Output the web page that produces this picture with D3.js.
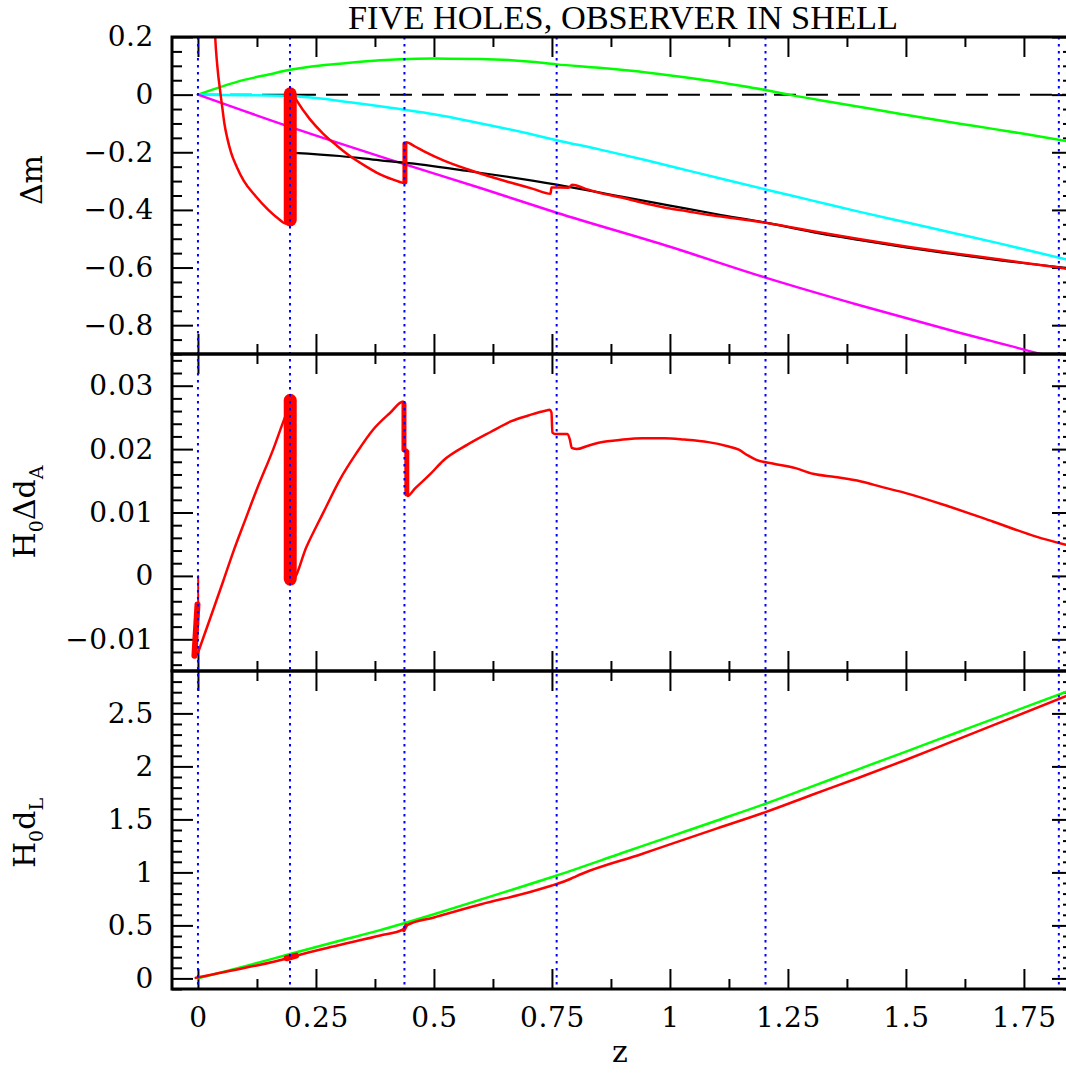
<!DOCTYPE html>
<html><head><meta charset="utf-8">
<script src="https://cdnjs.cloudflare.com/ajax/libs/d3/7.8.5/d3.min.js"></script>
<style>body{margin:0;background:#fff}</style>
</head><body><svg id="c" width="1066" height="1077"></svg>
<script>
// ---------------- data ----------------
const title = "FIVE HOLES, OBSERVER IN SHELL";
const holeZ = [0, 0.195, 0.4375, 0.760, 1.2025, 1.824];

const xMajor = [0, 0.25, 0.5, 0.75, 1, 1.25, 1.5, 1.75];
const xLabels = ["0", "0.25", "0.5", "0.75", "1", "1.25", "1.5", "1.75"];
const xMinor = [0.125, 0.375, 0.625, 0.875, 1.125, 1.375, 1.625];

const dmMajor = [0.2, 0, -0.2, -0.4, -0.6, -0.8];
const dmLabels = ["0.2", "0", "\u22120.2", "\u22120.4", "\u22120.6", "\u22120.8"];
const daMajor = [0.03, 0.02, 0.01, 0, -0.01];
const daLabels = ["0.03", "0.02", "0.01", "0", "\u22120.01"];
const dlMajor = [2.5, 2, 1.5, 1, 0.5, 0];
const dlLabels = ["2.5", "2", "1.5", "1", "0.5", "0"];

// top panel: Delta m
const greenDm = [[0,0],[0.05,0.028],[0.1,0.052],[0.15,0.07],[0.195,0.086],[0.237,0.097],[0.3,0.107],[0.386,0.119],[0.428,0.1226],[0.5,0.125],[0.6,0.124],[0.7,0.115],[0.76,0.105],[0.85,0.093],[0.95,0.077],[1.05,0.056],[1.15,0.031],[1.2025,0.016],[1.252,0],[1.35,-0.028],[1.45,-0.056],[1.55,-0.084],[1.65,-0.11],[1.75,-0.136],[1.84,-0.161]];
const cyanDm = [[0,0],[0.1,-0.002],[0.195,-0.005],[0.25,-0.012],[0.32,-0.026],[0.386,-0.04],[0.5,-0.068],[0.6,-0.1],[0.7,-0.135],[0.76,-0.158],[0.85,-0.19],[0.95,-0.228],[1.05,-0.268],[1.2025,-0.329],[1.3,-0.367],[1.4,-0.406],[1.5,-0.443],[1.6,-0.48],[1.7,-0.517],[1.84,-0.572]];
const magentaDm = [[0,0],[0.195,-0.112],[0.4,-0.222],[0.6,-0.325],[0.76,-0.41],[1.0,-0.528],[1.2025,-0.635],[1.4,-0.73],[1.6,-0.82],[1.785,-0.9],[1.84,-0.925]];
const blackDm = [[0.202,-0.202],[0.3,-0.213],[0.386,-0.228],[0.4375,-0.236],[0.571,-0.265],[0.76,-0.3125],[0.9,-0.355],[1.0,-0.385],[1.1,-0.415],[1.2025,-0.444],[1.3,-0.476],[1.4,-0.504],[1.5,-0.53],[1.6,-0.553],[1.7,-0.575],[1.84,-0.601]];
const redDm = [[0.03,0.6],[0.034,0.3],[0.0365,0.2],[0.041,0.1],[0.048,0],[0.052,-0.05],[0.056,-0.1],[0.062,-0.15],[0.070,-0.2],[0.082,-0.25],[0.0975,-0.3],[0.121,-0.35],[0.149,-0.4],[0.17,-0.43],[0.186,-0.447],
  [0.2,0.005],[0.209,-0.02],[0.237,-0.085],[0.265,-0.135],[0.295,-0.178],[0.322,-0.213],[0.355,-0.248],[0.386,-0.277],[0.428,-0.303],[0.436,-0.307],
  [0.441,-0.165],[0.46,-0.18],[0.478,-0.196],[0.52,-0.228],[0.571,-0.259],[0.62,-0.285],[0.664,-0.306],[0.71,-0.327],[0.747,-0.344],[0.749,-0.322],[0.785,-0.323],[0.793,-0.3125],[0.82,-0.326],[0.849,-0.34],[0.9,-0.358],[0.942,-0.375],[1.0,-0.395],[1.034,-0.404],[1.08,-0.417],[1.127,-0.427],[1.192,-0.442],[1.25,-0.458],[1.3,-0.473],[1.4,-0.501],[1.5,-0.527],[1.6,-0.55],[1.7,-0.572],[1.84,-0.604]];
const redDmBands = [[[0.1955,-0.435],[0.1955,0.003]], [[0.4385,-0.303],[0.4385,-0.17]]];

// middle panel: H0 Delta dA
const redDa = [[0.0006,-0.012],[0.0254,-0.0068],[0.0536,-0.0008],[0.0748,0.0038],[0.1,0.0088],[0.124,0.0135],[0.1596,0.0200],[0.1843,0.0250],[0.192,0.0264],
  [0.196,0.0],[0.2,-0.0006],[0.23,0.0046],[0.265,0.0099],[0.3008,0.0152],[0.336,0.0194],[0.3714,0.0231],[0.4068,0.0257],[0.435,0.0275],
  [0.436,0.0199],[0.443,0.0199],[0.444,0.0126],[0.46,0.0138],[0.4915,0.016],[0.52,0.0182],[0.571,0.0207],[0.62,0.0227],[0.664,0.0244],[0.7,0.0253],[0.738,0.0261],[0.745,0.0262],[0.749,0.0258],[0.751,0.0226],[0.757,0.0224],[0.783,0.0224],[0.788,0.0215],[0.792,0.0202],[0.803,0.02],[0.825,0.0205],[0.849,0.021],[0.9,0.0215],[0.942,0.0217],[0.988,0.0217],[1.03,0.0215],[1.081,0.0211],[1.12,0.0205],[1.146,0.0199],[1.165,0.019],[1.183,0.0183],[1.22,0.0177],[1.266,0.017],[1.303,0.0161],[1.35,0.0156],[1.405,0.0149],[1.45,0.014],[1.498,0.0131],[1.591,0.01095],[1.684,0.00858],[1.776,0.0062],[1.839,0.0049]];
const redDaBands = [[[-0.0075,-0.0126],[-0.001,-0.0045]], [[0.0005,-0.0045],[0.0005,0.0]], [[0.1955,-0.0005],[0.1955,0.0277]], [[0.4365,0.0199],[0.4365,0.0271]], [[0.4425,0.0129],[0.4425,0.0196]]];

// bottom panel: H0 dL
const greenDl = [[0,0],[0.1,0.115],[0.195,0.23],[0.3,0.355],[0.386,0.455],[0.5,0.605],[0.6,0.745],[0.76,0.971],[0.9,1.185],[1.0,1.338],[1.1,1.49],[1.2025,1.648],[1.3,1.809],[1.4,1.975],[1.5,2.14],[1.6,2.306],[1.7,2.472],[1.839,2.703]];
const redDl = [[-0.005,0.005],[0.1,0.1],[0.19,0.19],[0.205,0.21],[0.3,0.315],[0.386,0.404],[0.435,0.462],[0.442,0.5],[0.5,0.575],[0.6,0.7],[0.7,0.81],[0.75,0.876],[0.76,0.89],[0.79,0.94],[0.8,0.961],[0.942,1.176],[1.0,1.264],[1.1,1.415],[1.2025,1.569],[1.3,1.73],[1.4,1.893],[1.498,2.058],[1.6,2.238],[1.7,2.415],[1.839,2.663]];
const redDlBands = [[[0.188,0.19],[0.208,0.215]], [[0.436,0.455],[0.441,0.5]]];

// ---------------- layout ----------------
const svg = d3.select("#c");
const L = 172, R = 1073;
const x = d3.scaleLinear().domain([-0.055, 1.854]).range([L, R]);
const FONT = "'DejaVu Serif', serif";

const panels = [
  {top: 37, bottom: 354, dom: [-0.9, 0.2], major: dmMajor, labels: dmLabels, minorStep: 0.05},
  {top: 354, bottom: 671, dom: [-0.015, 0.035], major: daMajor, labels: daLabels, minorStep: 0.002},
  {top: 671, bottom: 989, dom: [-0.1, 2.9], major: dlMajor, labels: dlLabels, minorStep: 0.1}
];
panels.forEach((p, i) => {
  p.y = d3.scaleLinear().domain(p.dom).range([p.bottom, p.top]);
  const majSet = p.major.map(v => Math.round(v / p.minorStep));
  p.minor = d3.range(Math.ceil(p.dom[0] / p.minorStep), Math.floor(p.dom[1] / p.minorStep) + 1)
    .filter(k => !majSet.includes(k)).map(k => k * p.minorStep);
  svg.append("clipPath").attr("id", "clip" + i)
    .append("rect").attr("x", L).attr("y", p.top).attr("width", R - L).attr("height", p.bottom - p.top);
});

function styleAxis(g) {
  g.select(".domain").remove();
  g.selectAll(".tick line").attr("stroke", "#000").attr("stroke-width", 2);
  g.selectAll("text").attr("font-family", FONT).attr("font-size", 28).attr("letter-spacing", 0.6).attr("fill", "#000");
}

panels.forEach((p, i) => {
  const g = svg.append("g");
  g.append("g").attr("transform", `translate(${L},0)`)
    .call(d3.axisLeft(p.y).tickValues(p.major).tickSize(-21).tickPadding(18).tickFormat((d, k) => p.labels[k])).call(styleAxis);
  g.append("g").attr("transform", `translate(${L},0)`)
    .call(d3.axisLeft(p.y).tickValues(p.minor).tickSize(-10).tickFormat("")).call(styleAxis);
  g.append("g").attr("transform", `translate(${R},0)`)
    .call(d3.axisRight(p.y).tickValues(p.major).tickSize(-21).tickFormat("")).call(styleAxis);
  g.append("g").attr("transform", `translate(${R},0)`)
    .call(d3.axisRight(p.y).tickValues(p.minor).tickSize(-10).tickFormat("")).call(styleAxis);
  g.append("g").attr("transform", `translate(0,${p.top})`)
    .call(d3.axisTop(x).tickValues(xMajor).tickSize(-20).tickFormat("")).call(styleAxis);
  g.append("g").attr("transform", `translate(0,${p.top})`)
    .call(d3.axisTop(x).tickValues(xMinor).tickSize(-10).tickFormat("")).call(styleAxis);
  g.append("g").attr("transform", `translate(0,${p.bottom})`)
    .call(d3.axisBottom(x).tickValues(xMajor).tickSize(-20).tickPadding(18)
      .tickFormat((d, k) => i === 2 ? xLabels[k] : "")).call(styleAxis);
  g.append("g").attr("transform", `translate(0,${p.bottom})`)
    .call(d3.axisBottom(x).tickValues(xMinor).tickSize(-10).tickFormat("")).call(styleAxis);
});

function drawLine(pi, data, color, width, smooth) {
  const p = panels[pi];
  const line = d3.line().x(d => x(d[0])).y(d => p.y(d[1]));
  if (smooth) line.curve(d3.curveMonotoneX);
  svg.append("path").datum(data).attr("d", line).attr("clip-path", `url(#clip${pi})`)
    .attr("fill", "none").attr("stroke", color).attr("stroke-width", width)
    .attr("stroke-linejoin", "round").attr("stroke-linecap", "round");
}
function drawBands(pi, bands, widths) {
  bands.forEach((b, k) => drawLine(pi, b, "#ff0000", widths[k], false));
}

// top panel
const P0 = panels[0];
svg.append("line").attr("x1", x(0)).attr("x2", R).attr("y1", P0.y(0)).attr("y2", P0.y(0))
  .attr("stroke", "#000").attr("stroke-width", 2).attr("stroke-dasharray", "22,10");
drawLine(0, greenDm, "#00ff00", 2.5, true);
drawLine(0, cyanDm, "#00ffff", 2.5, true);
drawLine(0, magentaDm, "#ff00ff", 2.5, true);
drawLine(0, blackDm, "#000000", 2.2, true);
drawLine(0, redDm, "#ff0000", 2.5, true);
drawBands(0, redDmBands, [13, 5]);

// middle panel
drawLine(1, redDa, "#ff0000", 2.5, true);
drawBands(1, redDaBands, [6, 2, 13, 5, 5]);

// bottom panel
drawLine(2, greenDl, "#00ff00", 2.5, true);
drawLine(2, redDl, "#ff0000", 2.5, true);
drawBands(2, redDlBands, [6, 4]);

// hole markers
svg.selectAll("line.hole").data(holeZ).enter().append("line").attr("class", "hole")
  .attr("x1", d => x(d)).attr("x2", d => x(d)).attr("y1", panels[0].top).attr("y2", panels[2].bottom)
  .attr("stroke", "#0000ff").attr("stroke-width", 2).attr("stroke-dasharray", "2.5,4.5");

// frames
panels.forEach(p => {
  svg.append("rect").attr("x", L).attr("y", p.top).attr("width", R - L).attr("height", p.bottom - p.top)
    .attr("fill", "none").attr("stroke", "#000").attr("stroke-width", 3);
});

// title and axis labels
svg.append("text").attr("x", 623).attr("y", 29).attr("text-anchor", "middle")
  .attr("font-family", "'Liberation Serif', serif").attr("font-size", 33)
  .attr("textLength", 550).attr("lengthAdjust", "spacingAndGlyphs").text(title);

svg.append("text").attr("x", 620).attr("y", 1062).attr("text-anchor", "middle")
  .attr("font-family", FONT).attr("font-size", 30).text("z");

function yLabel(cy, parts) {
  const t = svg.append("text").attr("transform", `translate(${parts.bx},${cy}) rotate(-90)`)
    .attr("text-anchor", "middle").attr("font-family", FONT).attr("font-size", 30);
  parts.items.forEach(it => {
    const s = t.append("tspan").text(it[0]);
    if (it[1]) s.attr("font-size", 19).attr("dy", 8);
    else if (it[2]) s.attr("dy", -8);
  });
}
yLabel(180, {bx: 42, items: [["\u0394m"]]});
yLabel(512, {bx: 35, items: [["H"], ["0", true], ["\u0394d", false, true], ["A", true]]});
yLabel(833, {bx: 35, items: [["H"], ["0", true], ["d", false, true], ["L", true]]});
</script>
</body></html>
